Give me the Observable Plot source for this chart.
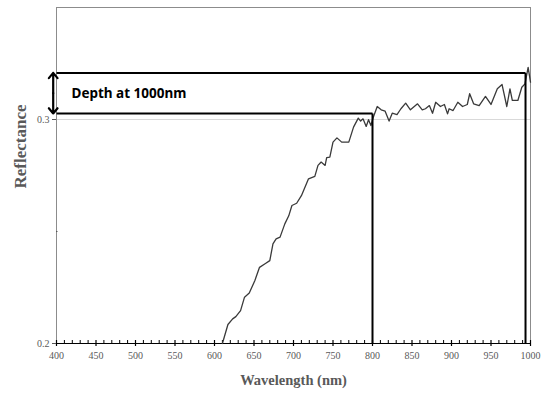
<!DOCTYPE html>
<html><head><meta charset="utf-8">
<script src="https://cdn.jsdelivr.net/npm/d3@7"></script>
<script src="https://cdn.jsdelivr.net/npm/@observablehq/plot@0.6"></script>
<style>body{margin:0;background:#fff}</style>
</head><body><div id="chart"></div>
<script>
const wavelength = [610,617,623,627,633,638,644,651,657,664,670,674,678,683,689,694,698,704,710,719,727,731,735,740,742,746,750,755,761,770,776,782,785,788,792,795,798,801,806,811,816,821,825,831,836,842,848,857,863,867,872,876,880,886,891,895,897,902,908,914,920,923,928,935,943,950,958,964,970,974,977,984,989,993,997,1000];
const reflectance = [0.200,0.2085,0.211,0.212,0.2147,0.2207,0.2225,0.228,0.234,0.2356,0.237,0.2445,0.2467,0.2475,0.2534,0.257,0.2616,0.2626,0.266,0.2735,0.2746,0.2795,0.281,0.2795,0.283,0.2832,0.2899,0.2918,0.2899,0.2899,0.2966,0.3006,0.2993,0.3003,0.2969,0.2999,0.2973,0.301,0.3058,0.3043,0.3037,0.2993,0.3028,0.3022,0.3048,0.3073,0.3043,0.307,0.3043,0.3048,0.3062,0.3028,0.3077,0.3058,0.3067,0.3025,0.3048,0.304,0.3077,0.3058,0.3067,0.3115,0.307,0.3062,0.3103,0.3067,0.3137,0.3156,0.3058,0.3137,0.3085,0.3085,0.3144,0.3159,0.3233,0.3167];
const xTicks = [400,450,500,550,600,650,700,750,800,850,900,950,1000];
const xMinorTicks = [410,420,430,440,460,470,480,490,510,520,530,540,560,570,580,590,610,620,630,640,660,670,680,690,710,720,730,740,760,770,780,790,810,820,830,840,860,870,880,890,910,920,930,940,960,970,980,990];
const yTicks = [0.2, 0.3];
const yTickLabels = ["0.2", "0.3"];
const yMinorTicks = [0.25];
const xDomain = [400, 1000];
const yDomain = [0.2, 0.35];
const depthTop = 0.3208;
const depthBase = 0.3027;
const baseWavelength = 800;
const peakWavelength = 993.7;
const annotationLabel = "Depth at 1000nm";
const xLabel = "Wavelength (nm)";
const yLabel = "Reflectance";

const W = 548, H = 393, mL = 56, mR = 18, mT = 7, mB = 50;
const pxX = (xDomain[1] - xDomain[0]) / (W - mL - mR);
const pxY = (yDomain[1] - yDomain[0]) / (H - mT - mB);

const spectrum = wavelength.map((w, i) => ({w, r: reflectance[i]}));
const guideLines = [
  {x1: xDomain[0], y1: depthTop, x2: peakWavelength, y2: depthTop},
  {x1: xDomain[0], y1: depthBase, x2: baseWavelength, y2: depthBase},
  {x1: baseWavelength, y1: yDomain[0], x2: baseWavelength, y2: depthBase},
  {x1: peakWavelength, y1: yDomain[0], x2: peakWavelength, y2: depthTop}
];
const arrowX = xDomain[0] - 3.3 * pxX;
const mid = (depthTop + depthBase) / 2;
const arrows = [
  {x1: arrowX, y1: mid, x2: arrowX, y2: depthTop},
  {x1: arrowX, y1: mid, x2: arrowX, y2: depthBase}
];
const serif = "Liberation Serif, Times New Roman, serif";
const grey = "#595959";

const chart = Plot.plot({
  width: W, height: H,
  marginLeft: mL, marginRight: mR, marginTop: mT, marginBottom: mB,
  x: {domain: xDomain, axis: null},
  y: {domain: yDomain, axis: null},
  style: {background: "#fff"},
  marks: [
    Plot.ruleY([0.3], {stroke: "#d9d9d9", strokeWidth: 1}),
    Plot.frame({stroke: "#8c8c8c", strokeWidth: 1}),
    Plot.ruleY([yDomain[0]], {stroke: "#000", strokeWidth: 1.2}),
    Plot.ruleX(xTicks, {y1: yDomain[0] - 3 * pxY, y2: yDomain[0] + 3 * pxY, stroke: "#000", strokeWidth: 1.2}),
    Plot.ruleX(xMinorTicks, {y1: yDomain[0], y2: yDomain[0] + 3 * pxY, stroke: "#000", strokeWidth: 1}),
    Plot.ruleY(yTicks, {x1: xDomain[0] - 4 * pxX, x2: xDomain[0], stroke: "#555", strokeWidth: 1}),
    Plot.ruleY(yMinorTicks, {x1: xDomain[0], x2: xDomain[0] + 1.5 * pxX, stroke: "#555", strokeWidth: 1}),
    Plot.text(xTicks, {x: d => d, y: yDomain[0], dy: 12, text: d => String(d), fontSize: 10, fill: grey, fontFamily: serif}),
    Plot.text(yTicks, {x: xDomain[0], y: d => d, dx: -7, text: (d, i) => yTickLabels[i], textAnchor: "end", fontSize: 10, fill: grey, fontFamily: serif}),
    Plot.line(spectrum, {x: "w", y: "r", stroke: "#3a3a3a", strokeWidth: 1.3}),
    Plot.link(guideLines, {x1: "x1", y1: "y1", x2: "x2", y2: "y2", stroke: "#000", strokeWidth: 2}),
    Plot.arrow(arrows, {x1: "x1", y1: "y1", x2: "x2", y2: "y2", stroke: "#000", strokeWidth: 2.2, headLength: 9, headAngle: 80}),
    Plot.text([annotationLabel], {x: xDomain[0], y: mid, dx: 15, text: d => d, textAnchor: "start", fontSize: 13.5, fontWeight: "bold", fill: "#000", fontFamily: "Noto Sans, sans-serif"}),
    Plot.text([xLabel], {frameAnchor: "bottom", dy: 41, text: d => d, fontSize: 14.5, fontWeight: "bold", fill: grey, fontFamily: serif}),
    Plot.text([yLabel], {frameAnchor: "left", dx: -36, dy: 13, rotate: -90, text: d => d, fontSize: 17, fontWeight: "bold", fill: grey, fontFamily: serif})
  ]
});
document.getElementById("chart").appendChild(chart);
</script>
</body></html>
